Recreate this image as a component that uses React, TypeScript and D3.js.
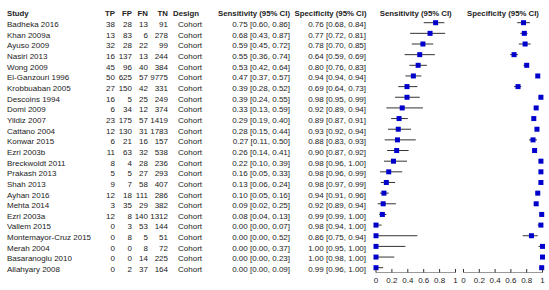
import React from "react";
import * as d3 from "d3";

const studies = [
  "Badheka 2016", "Khan 2009a", "Ayuso 2009", "Nasiri 2013", "Wong 2009",
  "El-Ganzouri 1996", "Krobbuaban 2005", "Descoins 1994", "Domi 2009", "Yildiz 2007",
  "Cattano 2004", "Konwar 2015", "Ezri 2003b", "Breckwoldt 2011", "Prakash 2013",
  "Shah 2013", "Ayhan 2016", "Mehta 2014", "Ezri 2003a", "Vallem 2015",
  "Montemayor-Cruz 2015", "Merah 2004", "Basaranoglu 2010", "Allahyary 2008",
];
const tp = [38, 13, 32, 16, 45, 50, 27, 16, 6, 23, 12, 6, 11, 8, 5, 9, 12, 3, 12, 0, 0, 0, 0, 0];
const fp = [28, 83, 28, 137, 96, 625, 150, 5, 34, 175, 130, 21, 63, 4, 5, 7, 18, 35, 8, 3, 8, 0, 0, 2];
const fn = [13, 6, 22, 13, 40, 57, 42, 25, 12, 57, 31, 16, 32, 28, 27, 58, 111, 29, 140, 53, 5, 8, 14, 37];
const tn = [91, 278, 99, 244, 384, 9775, 331, 249, 374, 1419, 1783, 157, 538, 236, 293, 407, 286, 382, 1312, 144, 51, 72, 225, 164];
const design = studies.map(() => "Cohort");
const sens = [0.75, 0.68, 0.59, 0.55, 0.53, 0.47, 0.39, 0.39, 0.33, 0.29, 0.28, 0.27, 0.26, 0.22, 0.16, 0.13, 0.10, 0.09, 0.08, 0.0, 0.0, 0.0, 0.0, 0.0];
const sensLo = [0.60, 0.43, 0.45, 0.36, 0.42, 0.37, 0.28, 0.24, 0.13, 0.19, 0.15, 0.11, 0.14, 0.10, 0.05, 0.06, 0.05, 0.02, 0.04, 0.0, 0.0, 0.0, 0.0, 0.0];
const sensHi = [0.86, 0.87, 0.72, 0.74, 0.64, 0.57, 0.52, 0.55, 0.59, 0.40, 0.44, 0.50, 0.41, 0.39, 0.33, 0.24, 0.16, 0.25, 0.13, 0.07, 0.52, 0.37, 0.23, 0.09];
const spec = [0.76, 0.77, 0.78, 0.64, 0.80, 0.94, 0.69, 0.98, 0.92, 0.89, 0.93, 0.88, 0.90, 0.98, 0.98, 0.98, 0.94, 0.92, 0.99, 0.98, 0.86, 1.0, 1.0, 0.99];
const specLo = [0.68, 0.72, 0.70, 0.59, 0.76, 0.94, 0.64, 0.95, 0.89, 0.87, 0.92, 0.83, 0.87, 0.96, 0.96, 0.97, 0.91, 0.89, 0.99, 0.94, 0.75, 0.95, 0.98, 0.96];
const specHi = [0.84, 0.81, 0.85, 0.69, 0.83, 0.94, 0.73, 0.99, 0.94, 0.91, 0.94, 0.93, 0.92, 1.0, 0.99, 0.99, 0.96, 0.94, 1.0, 1.0, 0.94, 1.0, 1.0, 1.0];
const axisTicks = [0, 0.2, 0.4, 0.6, 0.8, 1];
const headers = ["Study", "TP", "FP", "FN", "TN", "Design", "Sensitivity (95% CI)", "Specificity (95% CI)"];

const FONT = "'Liberation Sans', Arial, sans-serif";
const fmt = d3.format(".2f");

export default function App() {
  const W = 549, H = 290;
  const y = d3.scalePoint<string>().domain(studies).range([22.7, 267.7]);
  const xSens = d3.scaleLinear().domain([0, 1]).range([376, 455.5]);
  const xSpec = d3.scaleLinear().domain([0, 1]).range([463.5, 542.5]);
  const axisY = 272.5;
  const fs = 8;
  const txt = "#222";

  const numCols = [
    { x: 115, vals: tp, h: headers[1] },
    { x: 132, vals: fp, h: headers[2] },
    { x: 148, vals: fn, h: headers[3] },
    { x: 168, vals: tn, h: headers[4] },
  ];

  const plot = (xs: d3.ScaleLinear<number, number>, est: number[], lo: number[], hi: number[], key: string) => (
    <g key={key}>
      {studies.map((s, i) => (
        <g key={s}>
          <line x1={xs(lo[i])} x2={xs(hi[i])} y1={y(s)!} y2={y(s)!} stroke="#333" strokeWidth={1} />
          <rect x={xs(est[i]) - 2.5} y={y(s)! - 2.5} width={5} height={5} fill="#0000CC" />
        </g>
      ))}
      <line x1={xs(0)} x2={xs(1)} y1={axisY} y2={axisY} stroke="#999" strokeWidth={1} />
      {axisTicks.map((t) => (
        <g key={t}>
          <line x1={xs(t)} x2={xs(t)} y1={axisY - 3.5} y2={axisY} stroke="#333" strokeWidth={1} />
          <text x={xs(t)} y={282.5} textAnchor="middle" fontSize={fs} fill={txt} fontFamily={FONT}>
            {d3.format("~g")(t)}
          </text>
        </g>
      ))}
    </g>
  );

  return (
    <svg width={W} height={H} style={{ position: "absolute", left: 0, top: 0, background: "#fff" }}>
      <rect width={W} height={H} fill="#fff" />
      <g fontFamily={FONT} fontSize={fs} fill={txt}>
        <g fontWeight="bold" fontSize={7.8}>
          <text x={7} y={16}>{headers[0]}</text>
          {numCols.map((c) => (
            <text key={c.h} x={c.x} y={16} textAnchor="end">{c.h}</text>
          ))}
          <text x={173} y={16}>{headers[5]}</text>
          <text x={290} y={16} textAnchor="end">{headers[6]}</text>
          <text x={366.5} y={16} textAnchor="end">{headers[7]}</text>
          <text x={(xSens(0) + xSens(1)) / 2} y={16} textAnchor="middle">{headers[6]}</text>
          <text x={(xSpec(0) + xSpec(1)) / 2} y={16} textAnchor="middle">{headers[7]}</text>
        </g>
        {studies.map((s, i) => {
          const by = y(s)! + 4.4;
          return (
            <g key={s}>
              <text x={7} y={by}>{s}</text>
              {numCols.map((c) => (
                <text key={c.h} x={c.x} y={by} textAnchor="end">{c.vals[i]}</text>
              ))}
              <text x={178} y={by}>{design[i]}</text>
              <text x={290} y={by} textAnchor="end">{`${fmt(sens[i])} [${fmt(sensLo[i])}, ${fmt(sensHi[i])}]`}</text>
              <text x={366} y={by} textAnchor="end">{`${fmt(spec[i])} [${fmt(specLo[i])}, ${fmt(specHi[i])}]`}</text>
            </g>
          );
        })}
      </g>
      {plot(xSens, sens, sensLo, sensHi, "sens")}
      {plot(xSpec, spec, specLo, specHi, "spec")}
    </svg>
  );
}
